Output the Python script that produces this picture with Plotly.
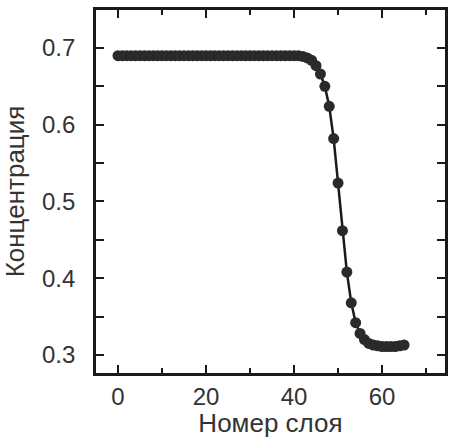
import plotly.graph_objects as go

layer = list(range(0, 66))
conc = [0.69] * 41 + [0.690, 0.689, 0.687, 0.684, 0.677, 0.666, 0.650, 0.624, 0.582,
                      0.524, 0.462, 0.408, 0.368, 0.342, 0.328, 0.320, 0.315, 0.313,
                      0.312, 0.311, 0.311, 0.311, 0.311, 0.312, 0.313]

x_title = "Номер слоя"
y_title = "Концентрация"
x_range = [-5, 74.3]

fig = go.Figure()
fig.add_trace(go.Scatter(
    x=layer, y=conc, mode="lines+markers",
    line=dict(color="#1a1a1a", width=2.5),
    marker=dict(size=11, color="#2a2a2a", line=dict(width=0)),
    showlegend=False, cliponaxis=False,
))
# invisible trace to anchor the top axis
fig.add_trace(go.Scatter(x=[layer[0]], y=[conc[0]], xaxis="x2", mode="markers",
                         marker=dict(opacity=0), showlegend=False, hoverinfo="skip"))

tick_font = dict(family="Liberation Sans, Arial, sans-serif", size=24, color="#333333")
title_font = dict(family="Liberation Sans, Arial, sans-serif", size=26, color="#333333")
tick_common = dict(
    showline=True, linecolor="#1a1a1a", linewidth=2.8,
    ticks="inside", ticklen=8, tickwidth=2, tickcolor="#1a1a1a",
    showgrid=False, zeroline=False, tickfont=tick_font,
)
minor_x = dict(ticks="inside", dtick=10, tick0=0, ticklen=5, tickwidth=2, tickcolor="#1a1a1a")
fig.update_layout(
    xaxis=dict(range=x_range, tickvals=[0, 20, 40, 60], minor=minor_x,
               title=dict(text=x_title, font=title_font, standoff=5),
               ticklabelstandoff=0, **tick_common),
    xaxis2=dict(range=x_range, tickvals=[0, 20, 40, 60], minor=minor_x,
                overlaying="x", side="top", showticklabels=False, **tick_common),
    yaxis=dict(range=[0.2765, 0.7495], tickvals=[0.3, 0.4, 0.5, 0.6, 0.7],
               ticktext=["0.3", "0.4", "0.5", "0.6", "0.7"],
               minor=dict(ticks="inside", dtick=0.05, tick0=0.3, ticklen=5, tickwidth=2, tickcolor="#1a1a1a"),
               title=dict(text=y_title, font=title_font, standoff=11),
               ticklabelstandoff=13, mirror="allticks", **tick_common),
    width=451, height=438,
    margin=dict(l=96, r=3, t=10, b=65),
    paper_bgcolor="white", plot_bgcolor="white",
    font=tick_font,
)
fig.write_html("out.html", config={"displayModeBar": False},
               post_script="document.body.style.margin='0';document.body.style.overflow='hidden';")
